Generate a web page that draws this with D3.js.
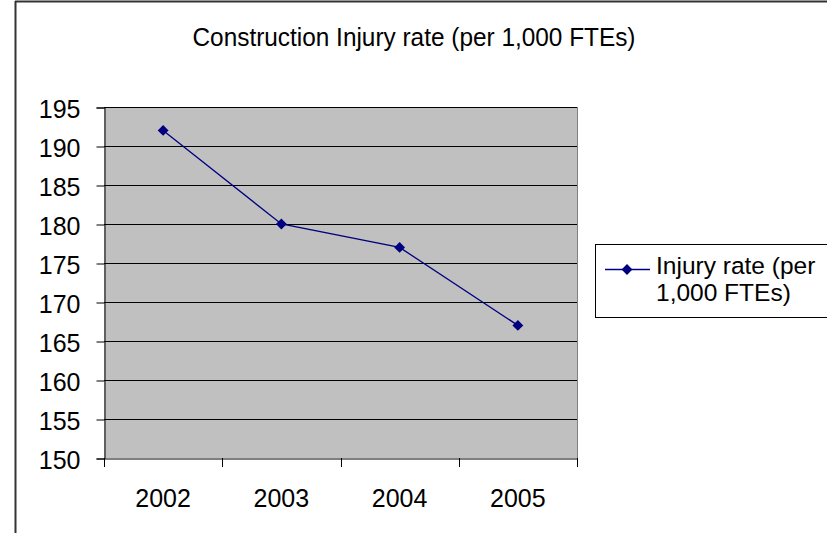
<!DOCTYPE html>
<html>
<head>
<meta charset="utf-8">
<script src="https://cdn.jsdelivr.net/npm/d3@7"></script>
<style>
  body { margin: 0; background: #fff; }
  text { font-family: "Liberation Sans", Arial, sans-serif; }
</style>
</head>
<body>
<div id="chart"></div>
<script>
"use strict";

// data
var years = ["2002", "2003", "2004", "2005"];
var injuryRate = [192, 180, 177, 167];
var yTicks = [150, 155, 160, 165, 170, 175, 180, 185, 190, 195];
var seriesName = ["Injury rate (per", "1,000 FTEs)"];
var chartTitle = "Construction Injury rate (per 1,000 FTEs)";

var W = 827, H = 533;
var plot = { left: 104, right: 577, top: 107, bottom: 458 };

var svg = d3.select("#chart").append("svg")
    .attr("width", W)
    .attr("height", H);

// outer chart border
svg.append("line")
    .attr("x1", 15.5).attr("x2", 15.5)
    .attr("y1", 1).attr("y2", H)
    .attr("stroke", "#333").attr("stroke-width", 2);
svg.append("line")
    .attr("x1", 15).attr("x2", W)
    .attr("y1", 1.5).attr("y2", 1.5)
    .attr("stroke", "#333").attr("stroke-width", 2);

// scales
var x = d3.scaleBand().domain(years).range([plot.left, plot.right]);
var y = d3.scaleLinear().domain([150, 195]).range([plot.bottom, plot.top]);

// plot background
svg.append("rect")
    .attr("x", plot.left)
    .attr("y", plot.top)
    .attr("width", plot.right - plot.left)
    .attr("height", plot.bottom - plot.top)
    .attr("fill", "#c0c0c0");

// right border of plot area
svg.append("line")
    .attr("x1", plot.right + 0.5).attr("x2", plot.right + 0.5)
    .attr("y1", plot.top).attr("y2", plot.bottom)
    .attr("stroke", "#808080");

// gridlines
svg.append("g")
    .selectAll("line")
    .data(yTicks.slice(1))
    .enter().append("line")
    .attr("x1", plot.left).attr("x2", plot.right)
    .attr("y1", function (d) { return Math.round(y(d)) + 0.5; })
    .attr("y2", function (d) { return Math.round(y(d)) + 0.5; })
    .attr("stroke", "#000");

// y axis
var yAxis = svg.append("g")
    .attr("transform", "translate(" + (plot.left + 0.5) + ",0.5)")
    .call(d3.axisLeft(y).tickValues(yTicks).tickSize(8).tickPadding(16));
yAxis.selectAll("text")
    .attr("dy", "0.38em")
    .style("font-size", "25px")
    .attr("fill", "#000");
yAxis.selectAll("line, path").attr("stroke", "#000");

// x axis
var xAxis = svg.append("g")
    .attr("transform", "translate(0," + (plot.bottom + 0.5) + ")")
    .call(d3.axisBottom(x).tickSize(0).tickPadding(31).tickSizeOuter(0));
xAxis.select("path").attr("stroke", "#000");
xAxis.selectAll("text")
    .style("font-size", "25px")
    .attr("fill", "#000");

// category separator ticks
svg.append("g")
    .selectAll("line")
    .data(years.concat(["end"]))
    .enter().append("line")
    .attr("x1", function (d, i) { return Math.round(plot.left + i * x.step()) + 0.5; })
    .attr("x2", function (d, i) { return Math.round(plot.left + i * x.step()) + 0.5; })
    .attr("y1", plot.bottom)
    .attr("y2", plot.bottom + 9)
    .attr("stroke", "#000");

// line
var line = d3.line()
    .x(function (d, i) { return x(years[i]) + x.bandwidth() / 2; })
    .y(function (d) { return y(d); });

svg.append("path")
    .datum(injuryRate)
    .attr("d", line)
    .attr("fill", "none")
    .attr("stroke", "#000080")
    .attr("stroke-width", 1.3);

var diamond = d3.symbol().type(d3.symbolDiamond2).size(75);

svg.selectAll(".dot")
    .data(injuryRate)
    .enter().append("path")
    .attr("class", "dot")
    .attr("d", diamond)
    .attr("transform", function (d, i) {
        return "translate(" + (x(years[i]) + x.bandwidth() / 2) + "," + y(d) + ")";
    })
    .attr("fill", "#000080");

// title (condensed like the original)
svg.append("text")
    .attr("x", 414)
    .attr("y", 46)
    .attr("text-anchor", "middle")
    .style("font-size", "26px")
    .attr("textLength", 443)
    .attr("lengthAdjust", "spacingAndGlyphs")
    .text(chartTitle);

// legend
var legend = svg.append("g");
legend.append("rect")
    .attr("x", 595.5).attr("y", 244.5)
    .attr("width", 240).attr("height", 73)
    .attr("fill", "#fff")
    .attr("stroke", "#000");
legend.append("line")
    .attr("x1", 605).attr("x2", 650)
    .attr("y1", 269.5).attr("y2", 269.5)
    .attr("stroke", "#000080")
    .attr("stroke-width", 1.3);
legend.append("path")
    .attr("d", diamond)
    .attr("transform", "translate(627,269.5)")
    .attr("fill", "#000080");
legend.append("text")
    .attr("x", 656).attr("y", 274)
    .style("font-size", "24.5px")
    .text(seriesName[0]);
legend.append("text")
    .attr("x", 656).attr("y", 301)
    .style("font-size", "24.5px")
    .text(seriesName[1]);
</script>
</body>
</html>
